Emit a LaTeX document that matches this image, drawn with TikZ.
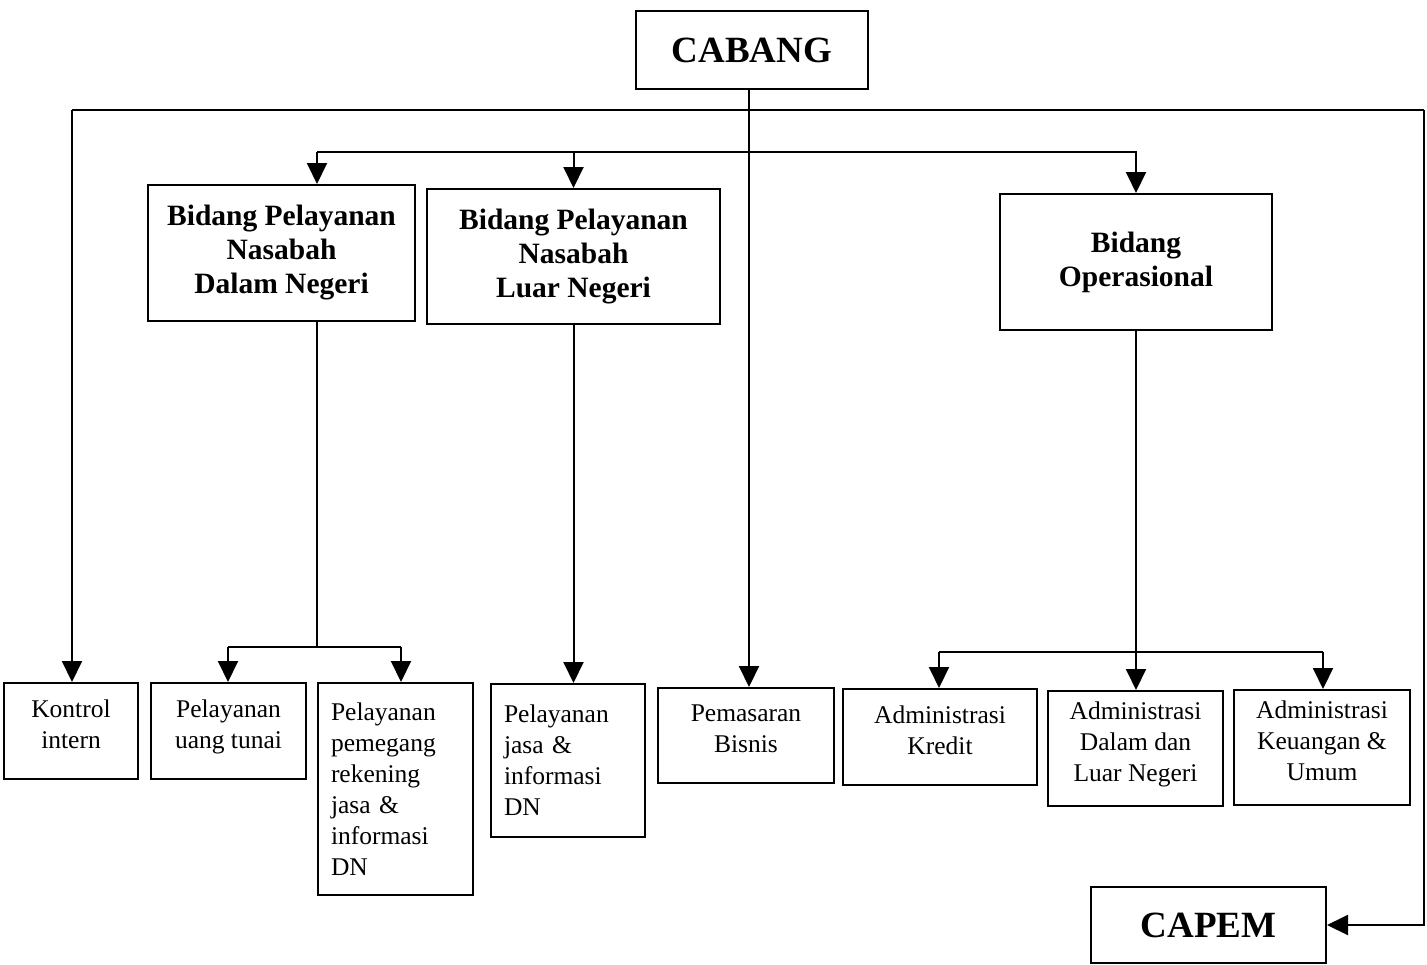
\documentclass[tikz,border=0pt]{standalone}
\usepackage{fontspec}
\setmainfont{Liberation Serif}
\usetikzlibrary{arrows.meta}
\begin{document}
\begin{tikzpicture}[x=1pt,y=-1pt,
  box/.style={draw, line width=2pt, rectangle, inner sep=0pt, align=center},
  head/.style={font=\fontsize{29.5}{34}\selectfont\bfseries},
  big/.style={font=\fontsize{37}{40}\selectfont\bfseries},
  small/.style={font=\fontsize{25.5}{31}\selectfont},
  smallc/.style={small, text depth=14pt},
  leftbox/.style={small, align=left, inner xsep=13pt},
  conn/.style={line width=2pt},
  arr/.style={line width=2pt, -{Triangle[width=20pt,length=21pt]}}]
\useasboundingbox (0,0) rectangle (1427,964);
% nodes
\node[box,big,minimum width=232pt,minimum height=78pt] (CABANG) at (752,50) {CABANG};
\node[box,head,minimum width=267pt,minimum height=136pt] (DN) at (281.5,253) {Bidang Pelayanan\\Nasabah\\Dalam Negeri};
\node[box,head,minimum width=293pt,minimum height=135pt] (LN) at (573.5,256.5) {Bidang Pelayanan\\Nasabah\\Luar Negeri};
\node[box,head,minimum width=272pt,minimum height=136pt] (OP) at (1136,262) {Bidang\\Operasional};
\node[box,smallc,minimum width=134pt,minimum height=96pt] (KI) at (71,731) {Kontrol\\intern};
\node[box,smallc,minimum width=155pt,minimum height=96pt] (UT) at (228.5,731) {Pelayanan\\uang tunai};
\node[box,leftbox,text width=129pt,minimum height=212pt] (PR) at (395.5,789) {Pelayanan\\pemegang\\rekening\\jasa \&\\informasi\\DN};
\node[box,leftbox,text width=128pt,minimum height=153pt] (JI) at (568,760.5) {Pelayanan\\jasa \&\\informasi\\DN};
\node[box,smallc,minimum width=176pt,minimum height=95pt] (PB) at (746,735.5) {Pemasaran\\Bisnis};
\node[box,smallc,minimum width=194pt,minimum height=96pt] (AK) at (940,737) {Administrasi\\Kredit};
\node[box,smallc,minimum width=175pt,minimum height=115pt] (AD) at (1135.5,748.5) {Administrasi\\Dalam dan\\Luar Negeri};
\node[box,smallc,minimum width=176pt,minimum height=115pt] (AU) at (1322,747.5) {Administrasi\\Keuangan \&\\Umum};
\node[box,big,minimum width=235pt,minimum height=76pt] (CP) at (1208.5,925) {CAPEM};
% coordinates
\coordinate (tl) at (72,110);
\coordinate (tr) at (1424,110);
\coordinate (ml) at (317,152);
\coordinate (mr) at (1137,152);
\coordinate (dl) at (228,647);
\coordinate (dr) at (401,647);
\coordinate (oL) at (939,652);
\coordinate (oR) at (1323,652);
% connectors
\draw[arr] ([xshift=-3pt]CABANG.south) -- ([xshift=-3pt]CABANG.south |- PB.north);
\draw[conn] (tl) -- (tr);
\draw[arr] (tl) -- (tl |- KI.north);
\draw[arr] (tr) -- (tr |- CP.east) -- (CP.east);
\draw[conn] (ml) -- (mr);
\draw[arr] (ml) -- (ml |- DN.north);
\draw[arr] (LN.north |- ml) -- (LN.north);
\draw[arr] (OP.north |- ml) -- (OP.north);
\draw[conn] (ml |- DN.south) -- (ml |- dl);
\draw[conn] (dl) -- (dr);
\draw[arr] (dl) -- (dl |- UT.north);
\draw[arr] (dr) -- (dr |- PR.north);
\draw[arr] (LN.south) -- (LN.south |- JI.north);
\draw[arr] (OP.south) -- (OP.south |- AD.north);
\draw[conn] (oL) -- (oR);
\draw[arr] (oL) -- (oL |- AK.north);
\draw[arr] (oR) -- (oR |- AU.north);
\end{tikzpicture}
\end{document}
